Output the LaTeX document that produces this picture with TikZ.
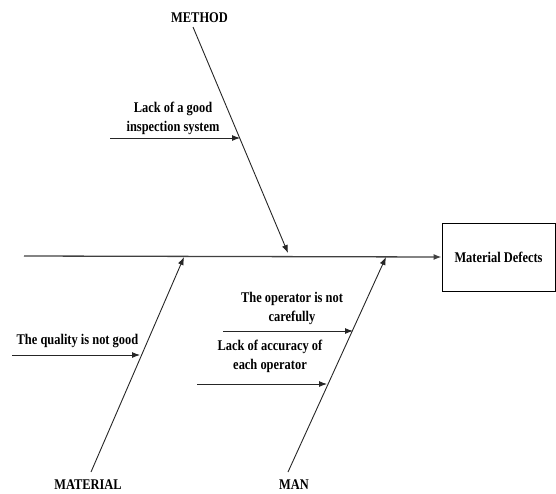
\documentclass[tikz,border=0pt]{standalone}
\usepackage{fontspec}
\setmainfont{Liberation Serif}[FakeStretch=0.84]
\usetikzlibrary{arrows.meta}
\begin{document}
\begin{tikzpicture}[x=1pt,y=-1pt,
  lbl/.style={font=\fontsize{14.8}{19}\selectfont\bfseries, inner sep=0pt, align=center, anchor=base},
  bone/.style={line width=0.9pt, draw=black!85},
  cause/.style={line width=0.9pt, draw=black!85, -{Latex[length=8pt,width=6pt]}},
  spine/.style={line width=1.3pt, draw=black!75, -{Latex[length=8pt,width=6pt]}}
]
\useasboundingbox (0,0) rectangle (556,493);

% effect box
\node[draw, line width=0.9pt, minimum width=113pt, minimum height=68pt, inner sep=0pt,
      font=\fontsize{14.8}{19}\selectfont\bfseries] (effect) at (498.5,257) {Material Defects};

% spine
\coordinate (tail) at (24,256);
\draw[spine] (tail) -- (effect.west);

% category labels
\node[lbl] (method) at (199.5,22) {METHOD};
\node[lbl] (material) at (88,489) {MATERIAL};
\node[lbl] (man) at (294,489) {MAN};

% bone ends
\coordinate (methodTop) at (193,27);
\coordinate (methodTip) at (288,253);
\coordinate (materialFoot) at (91,472);
\coordinate (materialTip) at (184,257);
\coordinate (manFoot) at (288,472);
\coordinate (manTip) at (386,257);

\draw[cause] (methodTop) -- (methodTip);
\draw[cause] (materialFoot) -- (materialTip);
\draw[cause] (manFoot) -- (manTip);

% sub-causes (multi-line labels are placed by the baseline of their last line)
\node[lbl] (inspect) at (173,131.5) {Lack of a good\\inspection system};
\coordinate (inspectStart) at (110,138);
\coordinate (inspectEnd) at (240,138);
\draw[cause] (inspectStart) -- (inspectEnd);

\node[lbl] (quality) at (77.5,344) {The quality is not good};
\coordinate (qualityStart) at (12,355);
\coordinate (qualityEnd) at (140,355);
\draw[cause] (qualityStart) -- (qualityEnd);

\node[lbl] (careful) at (292,321.5) {The operator is not\\carefully};
\coordinate (carefulStart) at (223,331);
\coordinate (carefulEnd) at (353,331);
\draw[cause] (carefulStart) -- (carefulEnd);

\node[lbl] (accuracy) at (270,369.5) {Lack of accuracy of\\each operator};
\coordinate (accuracyStart) at (197,384);
\coordinate (accuracyEnd) at (327,384);
\draw[cause] (accuracyStart) -- (accuracyEnd);
\end{tikzpicture}
\end{document}
